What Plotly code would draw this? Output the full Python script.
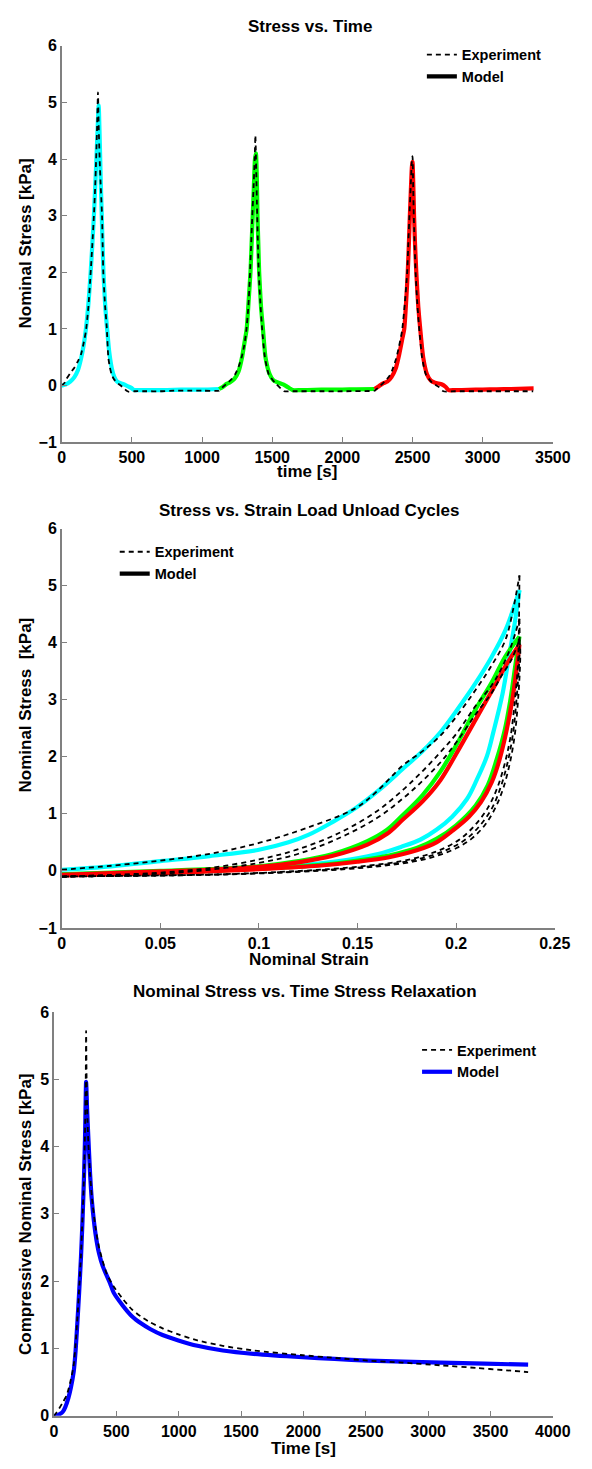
import plotly.graph_objects as go

W, H = 592, 1469

# ---------------- Plot 1 : Stress vs. Time ----------------
exp1_t = [0, 20, 34, 60, 91, 115, 137, 155, 172, 190, 206, 218, 229, 238, 245, 252, 258, 263, 270, 278, 287, 296, 309, 320, 332, 343, 355, 370, 389, 410, 435, 462, 480, 520, 600, 700, 800, 900, 1000, 1121,
          1127, 1150, 1174, 1205, 1236, 1260, 1281, 1300, 1315, 1330, 1342, 1350, 1358, 1367, 1375, 1380, 1386, 1393, 1404, 1416, 1428, 1448, 1475, 1520, 1560, 1585, 1650, 1800, 2000, 2230,
          2235, 2260, 2280, 2305, 2330, 2355, 2380, 2400, 2425, 2445, 2462, 2470, 2478, 2487, 2496, 2500, 2504, 2509, 2522, 2534, 2548, 2568, 2595, 2640, 2690, 2720, 2800, 3000, 3200, 3360]
exp1_s = [0.0, 0.05, 0.12, 0.22, 0.32, 0.43, 0.55, 0.74, 0.96, 1.4, 2.0, 2.5, 3.0, 3.5, 4.0, 4.6, 5.18, 4.6, 4.0, 3.5, 3.0, 2.0, 1.4, 1.05, 0.49, 0.32, 0.2, 0.12, 0.06, 0.02, -0.03, -0.09, -0.11, -0.1, -0.1, -0.1, -0.09, -0.09, -0.09, -0.09,
          -0.07, -0.02, 0.03, 0.1, 0.2, 0.33, 0.49, 0.7, 0.96, 1.4, 2.0, 2.5, 3.0, 3.5, 4.0, 4.42, 3.8, 3.0, 2.0, 1.45, 1.0, 0.5, 0.2, 0.05, -0.05, -0.1, -0.1, -0.1, -0.1, -0.09,
          -0.08, -0.03, 0.02, 0.08, 0.15, 0.27, 0.45, 0.65, 0.96, 1.45, 2.0, 2.5, 3.0, 3.5, 4.0, 4.05, 3.6, 3.0, 2.0, 1.45, 1.0, 0.5, 0.2, 0.05, -0.03, -0.1, -0.1, -0.1, -0.1, -0.1]

cyan1_t = [0, 30, 60, 90, 115, 135, 155, 172, 190, 206, 218, 229, 238, 247, 255, 263, 270, 277, 285, 297, 310, 325, 338, 357, 375, 395, 420, 446, 469, 495, 510, 526, 600, 700, 800, 900, 1000, 1121]
cyan1_s = [0.0, 0.02, 0.07, 0.15, 0.27, 0.45, 0.7, 1.0, 1.45, 2.0, 2.5, 3.0, 3.5, 4.0, 4.5, 4.95, 4.4, 3.7, 3.0, 2.0, 1.4, 0.95, 0.6, 0.3, 0.15, 0.07, 0.04, 0.02, -0.01, -0.04, -0.07, -0.08, -0.08, -0.08, -0.075, -0.07, -0.07, -0.06]

green1_t = [1121, 1150, 1175, 1200, 1230, 1260, 1285, 1305, 1318, 1332, 1345, 1353, 1361, 1369, 1377, 1384, 1390, 1395, 1401, 1407, 1420, 1434, 1452, 1482, 1510, 1545, 1578, 1600, 1625, 1646, 1700, 1800, 1900, 2000, 2100, 2230]
green1_s = [-0.06, -0.02, 0.03, 0.06, 0.12, 0.25, 0.5, 0.8, 1.0, 1.5, 2.0, 2.5, 3.0, 3.5, 4.0, 4.1, 3.7, 3.0, 2.5, 2.0, 1.4, 1.0, 0.5, 0.2, 0.09, 0.05, 0.02, -0.01, -0.05, -0.08, -0.08, -0.075, -0.07, -0.07, -0.065, -0.06]

red1_t = [2230, 2260, 2290, 2320, 2350, 2380, 2405, 2425, 2441, 2455, 2466, 2474, 2481, 2489, 2495, 2500, 2505, 2511, 2518, 2527, 2541, 2555, 2576, 2603, 2630, 2660, 2711, 2735, 2757, 2800, 2900, 3000, 3100, 3200, 3363]
red1_s = [-0.06, -0.01, 0.04, 0.07, 0.15, 0.3, 0.55, 0.8, 1.0, 1.5, 2.0, 2.5, 3.0, 3.5, 3.85, 3.95, 3.6, 3.0, 2.5, 2.0, 1.4, 1.0, 0.5, 0.2, 0.09, 0.05, 0.02, -0.02, -0.08, -0.08, -0.075, -0.07, -0.065, -0.06, -0.05]

# ---------------- Plot 2 : Stress vs. Strain ----------------
cyan2_load_e = [0, 0.025, 0.05, 0.075, 0.1, 0.115, 0.125, 0.137, 0.149, 0.161, 0.173, 0.183, 0.192, 0.2, 0.21, 0.218, 0.225, 0.2321]
cyan2_load_s = [0.02, 0.08, 0.17, 0.26, 0.37, 0.5, 0.63, 0.85, 1.1, 1.42, 1.79, 2.1, 2.43, 2.8, 3.3, 3.75, 4.22, 4.92]
cyan2_unl_e = [0.2321, 0.2295, 0.227, 0.2235, 0.219, 0.2155, 0.2105, 0.2055, 0.198, 0.19, 0.182, 0.172, 0.161, 0.146, 0.13, 0.1, 0.075, 0.05, 0.025, 0]
cyan2_unl_s = [4.92, 4.3, 3.8, 3.1, 2.45, 2.0, 1.6, 1.26, 0.95, 0.72, 0.55, 0.42, 0.3, 0.2, 0.13, 0.05, 0.01, -0.02, -0.04, -0.06]

green2_load_e = [0, 0.025, 0.05, 0.075, 0.1, 0.12, 0.137, 0.155, 0.165, 0.173, 0.183, 0.192, 0.2, 0.21, 0.218, 0.225, 0.2321]
green2_load_s = [-0.06, -0.03, 0.0, 0.03, 0.08, 0.17, 0.29, 0.52, 0.72, 0.98, 1.33, 1.74, 2.2, 2.84, 3.3, 3.76, 4.11]
green2_unl_e = [0.2321, 0.23, 0.2275, 0.2245, 0.2205, 0.216, 0.21, 0.2, 0.19, 0.18, 0.166, 0.15, 0.13, 0.1, 0.075, 0.05, 0.025, 0]
green2_unl_s = [4.11, 3.6, 3.0, 2.45, 1.95, 1.5, 1.15, 0.8, 0.56, 0.4, 0.27, 0.18, 0.1, 0.04, 0.0, -0.03, -0.05, -0.07]

red2_load_e = [0, 0.025, 0.05, 0.075, 0.1, 0.12, 0.137, 0.155, 0.165, 0.173, 0.183, 0.192, 0.2, 0.21, 0.218, 0.225, 0.2321]
red2_load_s = [-0.07, -0.04, -0.01, 0.02, 0.07, 0.15, 0.26, 0.46, 0.65, 0.9, 1.22, 1.59, 2.05, 2.66, 3.15, 3.59, 3.97]
red2_unl_e = [0.2321, 0.2305, 0.2285, 0.2255, 0.222, 0.218, 0.2125, 0.2065, 0.198, 0.19, 0.18, 0.166, 0.15, 0.13, 0.1, 0.075, 0.05, 0.025, 0]
red2_unl_s = [3.97, 3.5, 3.0, 2.45, 1.95, 1.55, 1.2, 0.95, 0.7, 0.5, 0.36, 0.24, 0.16, 0.09, 0.03, -0.01, -0.04, -0.06, -0.08]

exp2_load1_e = [0, 0.025, 0.05, 0.075, 0.1, 0.124, 0.149, 0.16, 0.173, 0.183, 0.192, 0.2, 0.21, 0.218, 0.225, 0.229, 0.2321]
exp2_load1_s = [0.02, 0.09, 0.18, 0.3, 0.49, 0.75, 1.1, 1.4, 1.85, 2.1, 2.37, 2.7, 3.18, 3.6, 4.05, 4.6, 5.18]
exp2_unl1_e = [0.2321, 0.2318, 0.2313, 0.2298, 0.2278, 0.2248, 0.2208, 0.216, 0.2095, 0.2025, 0.194, 0.184, 0.172, 0.155, 0.135, 0.11, 0.08, 0.05, 0.025, 0]
exp2_unl1_s = [5.18, 4.2, 3.6, 3.0, 2.4, 1.9, 1.45, 1.1, 0.8, 0.57, 0.4, 0.27, 0.17, 0.09, 0.03, -0.02, -0.06, -0.08, -0.09, -0.1]
exp2_load2_e = [0, 0.025, 0.05, 0.075, 0.1, 0.12, 0.1416, 0.16, 0.173, 0.183, 0.192, 0.2, 0.21, 0.218, 0.223, 0.228, 0.2321]
exp2_load2_s = [-0.1, -0.07, -0.03, 0.05, 0.2, 0.38, 0.68, 1.05, 1.42, 1.75, 2.08, 2.4, 2.9, 3.25, 3.55, 3.95, 4.42]
exp2_unl2_e = [0.2321, 0.2322, 0.2319, 0.2306, 0.2288, 0.2261, 0.2224, 0.2182, 0.2122, 0.2055, 0.1972, 0.1875, 0.1758, 0.1592, 0.1395, 0.114, 0.083, 0.052, 0.026, 0]
exp2_unl2_s = [4.42, 4.1, 3.6, 3.0, 2.4, 1.9, 1.45, 1.1, 0.8, 0.57, 0.4, 0.27, 0.17, 0.09, 0.03, -0.02, -0.06, -0.08, -0.09, -0.1]
exp2_load3_e = [0, 0.025, 0.05, 0.075, 0.1, 0.12, 0.1416, 0.16, 0.173, 0.183, 0.192, 0.2, 0.21, 0.218, 0.223, 0.228, 0.2321]
exp2_load3_s = [-0.1, -0.08, -0.05, 0.02, 0.14, 0.3, 0.59, 0.93, 1.27, 1.58, 1.9, 2.25, 2.75, 3.12, 3.42, 3.7, 4.05]
exp2_unl3_e = [0.2321, 0.2325, 0.2324, 0.2314, 0.2298, 0.2273, 0.2239, 0.2198, 0.2145, 0.208, 0.2002, 0.1908, 0.1795, 0.1632, 0.1438, 0.118, 0.086, 0.054, 0.027, 0]
exp2_unl3_s = [4.05, 3.9, 3.6, 3.0, 2.4, 1.9, 1.45, 1.1, 0.8, 0.57, 0.4, 0.27, 0.17, 0.09, 0.03, -0.02, -0.06, -0.08, -0.09, -0.1]

# ---------------- Plot 3 : Stress relaxation ----------------
exp3_t = [0, 20, 41, 70, 100, 130, 157, 172, 187, 200, 216, 228, 239, 248, 254, 257, 261, 268, 275, 289, 303, 332, 361, 420, 478, 550, 624, 700, 770, 870, 997, 1150, 1353, 1600, 1994, 2250, 2519, 2800, 3102, 3394, 3600, 3802]
exp3_s = [0.0, 0.05, 0.11, 0.2, 0.3, 0.5, 0.75, 1.05, 1.45, 1.85, 2.4, 2.95, 3.5, 4.2, 5.0, 5.72, 5.0, 4.4, 4.05, 3.6, 3.25, 2.8, 2.5, 2.12, 1.92, 1.74, 1.58, 1.47, 1.39, 1.3, 1.21, 1.12, 1.04, 0.97, 0.9, 0.86, 0.82, 0.79, 0.75, 0.71, 0.68, 0.65]
model3_t = [0, 30, 50, 70, 90, 114, 135, 157, 172, 187, 200, 216, 228, 239, 248, 257, 265, 274, 289, 303, 332, 361, 391, 449, 478, 550, 624, 700, 770, 870, 997, 1150, 1353, 1600, 1994, 2250, 2519, 2800, 3102, 3450, 3802]
model3_s = [0.0, 0.01, 0.03, 0.06, 0.13, 0.26, 0.42, 0.65, 0.95, 1.39, 1.8, 2.36, 2.9, 3.49, 4.1, 4.96, 4.55, 4.17, 3.59, 3.2, 2.71, 2.41, 2.22, 1.97, 1.83, 1.64, 1.48, 1.37, 1.29, 1.2, 1.12, 1.04, 0.97, 0.92, 0.87, 0.845, 0.82, 0.805, 0.79, 0.775, 0.76]

xticks1 = [0, 500, 1000, 1500, 2000, 2500, 3000, 3500]
xticks2 = [0, 0.05, 0.1, 0.15, 0.2, 0.25]
xticklabels2 = ["0", "0.05", "0.1", "0.15", "0.2", "0.25"]
xticks3 = [0, 500, 1000, 1500, 2000, 2500, 3000, 3500, 4000]
yticks12 = [-1, 0, 1, 2, 3, 4, 5, 6]
yticks3 = [0, 1, 2, 3, 4, 5, 6]

FONT = "Liberation Sans"
DASH = "5px,4px"
MW = 4.2
EW = 1.8

fig = go.Figure()

def px_x(p):
    return p / W

def px_y(p):
    return 1 - p / H

def model_line(col, sm):
    return dict(color=col, width=MW, shape="spline", smoothing=sm)

def exp_line(sm):
    return dict(color="black", width=EW, dash=DASH, shape="spline", smoothing=sm)

# ---- plot 1 traces
for tt, ss, col in [(cyan1_t, cyan1_s, "#00FFFF"), (green1_t, green1_s, "#00FF00"), (red1_t, red1_s, "#FF0000")]:
    fig.add_trace(go.Scatter(x=tt, y=ss, mode="lines", line=model_line(col, 0.6), showlegend=False, xaxis="x", yaxis="y"))
fig.add_trace(go.Scatter(x=exp1_t, y=exp1_s, mode="lines", name="Experiment", line=exp_line(0.6), legend="legend", legendrank=1, xaxis="x", yaxis="y"))
fig.add_trace(go.Scatter(x=[None], y=[None], mode="lines", name="Model", line=dict(color="black", width=MW), legend="legend", legendrank=2, xaxis="x", yaxis="y"))

# ---- plot 2 traces
for ee, ss, col in [
    (cyan2_load_e, cyan2_load_s, "#00FFFF"), (cyan2_unl_e, cyan2_unl_s, "#00FFFF"),
    (green2_load_e, green2_load_s, "#00FF00"), (green2_unl_e, green2_unl_s, "#00FF00"),
    (red2_load_e, red2_load_s, "#FF0000"), (red2_unl_e, red2_unl_s, "#FF0000"),
]:
    fig.add_trace(go.Scatter(x=ee, y=ss, mode="lines", line=model_line(col, 1.0), showlegend=False, xaxis="x2", yaxis="y2"))
exp2_parts = [(exp2_load1_e, exp2_load1_s), (exp2_unl1_e, exp2_unl1_s), (exp2_load2_e, exp2_load2_s),
              (exp2_unl2_e, exp2_unl2_s), (exp2_load3_e, exp2_load3_s), (exp2_unl3_e, exp2_unl3_s)]
for i, (ee, ss) in enumerate(exp2_parts):
    fig.add_trace(go.Scatter(x=ee, y=ss, mode="lines", name="Experiment", line=exp_line(1.0), legend="legend2",
                             legendrank=1, showlegend=(i == 0), xaxis="x2", yaxis="y2"))
fig.add_trace(go.Scatter(x=[None], y=[None], mode="lines", name="Model", line=dict(color="black", width=MW), legend="legend2", legendrank=2, xaxis="x2", yaxis="y2"))

# ---- plot 3 traces
fig.add_trace(go.Scatter(x=model3_t, y=model3_s, mode="lines", name="Model", line=model_line("#0000FF", 0.6), legend="legend3", legendrank=2, xaxis="x3", yaxis="y3"))
fig.add_trace(go.Scatter(x=exp3_t, y=exp3_s, mode="lines", name="Experiment", line=exp_line(0.6), legend="legend3", legendrank=1, xaxis="x3", yaxis="y3"))

axis_common = dict(showline=True, linecolor="#808080", linewidth=1.5, ticks="inside", ticklen=5,
                   tickcolor="#808080", tickwidth=1.2, showgrid=False, zeroline=False, mirror=False,
                   tickfont=dict(family=FONT, size=16, color="black", weight="bold"))

legfont = dict(family=FONT, size=14.5, color="black", weight="bold")
fig.update_layout(
    width=W, height=H, margin=dict(l=0, r=0, t=0, b=0),
    paper_bgcolor="white", plot_bgcolor="white",
    xaxis=dict(domain=[px_x(60), px_x(570)], range=[0, 3500], tickvals=xticks1, anchor="y", **axis_common),
    yaxis=dict(domain=[px_y(439.3), px_y(38.3)], range=[-1, 6], tickvals=yticks12, anchor="x", **axis_common),
    xaxis2=dict(domain=[px_x(60), px_x(572)], range=[0, 0.25], tickvals=xticks2, ticktext=xticklabels2, anchor="y2", **axis_common),
    yaxis2=dict(domain=[px_y(930.7), px_y(526.7)], range=[-1, 6], tickvals=yticks12, anchor="x2", **axis_common),
    xaxis3=dict(domain=[px_x(52), px_x(570)], range=[0, 4000], tickvals=xticks3, anchor="y3", **axis_common),
    yaxis3=dict(domain=[px_y(1424.3), px_y(1015.7)], range=[0, 6], tickvals=yticks3, anchor="x3", **axis_common),
    legend=dict(x=px_x(434), y=px_y(31), xanchor="left", yanchor="top", bgcolor="rgba(0,0,0,0)", font=legfont, tracegroupgap=0),
    legend2=dict(x=px_x(115), y=px_y(534), xanchor="left", yanchor="top", bgcolor="rgba(0,0,0,0)", font=legfont, tracegroupgap=0),
    legend3=dict(x=px_x(429), y=px_y(1038), xanchor="left", yanchor="top", bgcolor="rgba(0,0,0,0)", font=legfont, tracegroupgap=0),
)

tfont = dict(family=FONT, size=17, color="black", weight="bold")
annots = [
    ("Stress vs. Time", 318, 18.5, 0),
    ("Stress vs. Strain Load Unload Cycles", 317, 508.5, 0),
    ("Nominal Stress vs. Time Stress Relaxation", 313, 995.5, 0),
    ("time [s]", 315, 469, 0),
    ("Nominal Strain", 316.5, 963, 0),
    ("Time [s]", 311, 1457, 0),
    ("Nominal Stress [kPa]", 22.5, 238.5, -90),
    ("Nominal Stress  [kPa]", 22.5, 705, -90),
    ("Compressive Nominal Stress [kPa]", 23, 1220, -90),
]
for text, x, y, ang in annots:
    fig.add_annotation(text=text, x=px_x(x), y=px_y(y), xref="paper", yref="paper",
                       xanchor="center", yanchor="middle", showarrow=False, textangle=ang, font=tfont)

fig.write_html("out.html")
